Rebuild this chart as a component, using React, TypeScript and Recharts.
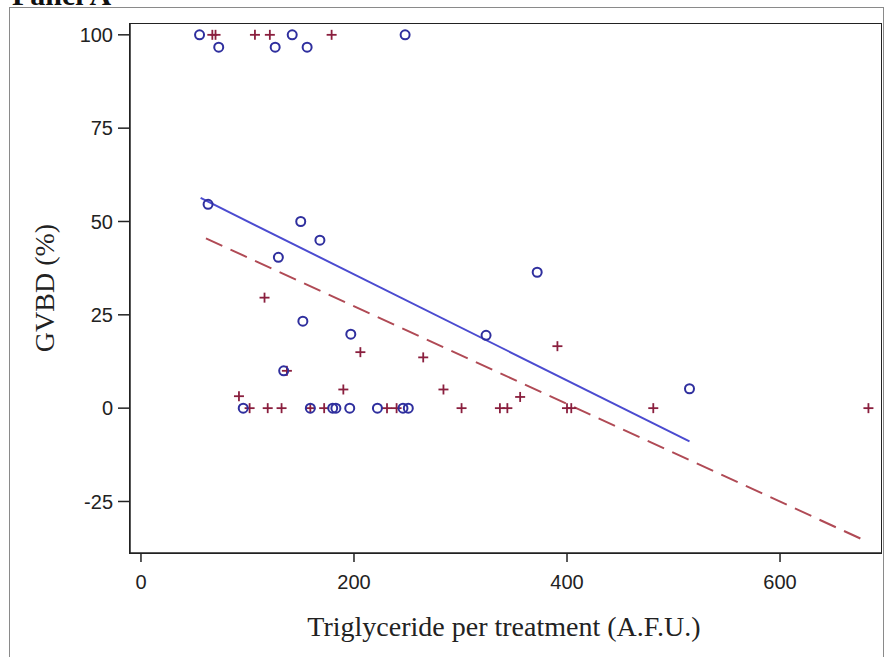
import React from "react";
import { ScatterChart, Scatter, XAxis, YAxis } from "recharts";

// Group 1 (blue circles)
const circleX = [55, 73, 126, 142, 156, 248, 63, 150, 168, 129, 152, 197, 324, 372, 515, 134, 96, 159, 180, 183, 196, 222, 246, 251];
const circleY = [100, 96.7, 96.7, 100, 96.7, 100, 54.6, 50, 45, 40.4, 23.3, 19.8, 19.5, 36.4, 5.2, 10, 0, 0, 0, 0, 0, 0, 0, 0];

// Group 2 (red plus signs)
const plusX = [67, 70, 107, 121, 179, 116, 92, 137, 190, 206, 265, 284, 356, 391, 102, 119, 132, 159, 172, 231, 240, 301, 337, 344, 400, 404, 481, 683];
const plusY = [100, 100, 100, 100, 100, 29.6, 3.2, 10, 5, 15, 13.6, 5, 3, 16.6, 0, 0, 0, 0, 0, 0, 0, 0, 0, 0, 0, 0, 0, 0];

// Fitted regression lines (end points)
const blueFitX = [56, 515];
const blueFitY = [56.3, -8.9];
const redFitX = [61, 683];
const redFitY = [45.5, -35.9];

const xTicks = [0, 200, 400, 600];
const yTicks = [-25, 0, 25, 50, 75, 100];
const xDomain = [-10.3, 694.8];
const yDomain = [-38.8, 102.9];

const toPts = (xs: number[], ys: number[]) => xs.map((x, i) => ({ x, y: ys[i] }));

const circles = toPts(circleX, circleY);
const pluses = toPts(plusX, plusY);
const blueFit = toPts(blueFitX, blueFitY);
const redFit = toPts(redFitX, redFitY);

const CIRCLE_COLOR = "#2f2f9e";
const PLUS_COLOR = "#8a1f3e";

const CircleShape = (p: any) => (
  <circle cx={p.cx} cy={p.cy} r={4.5} fill="none" stroke={CIRCLE_COLOR} strokeWidth={2} />
);
const PlusShape = (p: any) => (
  <g stroke={PLUS_COLOR} strokeWidth={1.8}>
    <line x1={p.cx - 5} y1={p.cy} x2={p.cx + 5} y2={p.cy} />
    <line x1={p.cx} y1={p.cy - 5} x2={p.cx} y2={p.cy + 5} />
  </g>
);
const NoShape = () => <g />;

const tickStyle = { fontFamily: "'Liberation Sans', Arial, sans-serif", fontSize: 20, fill: "#222" };

const PLOT = { left: 130, top: 24, right: 881, bottom: 553 };

export default function App() {
  return (
    <div style={{ position: "absolute", left: 0, top: 0, width: 885, height: 657, background: "#fff", overflow: "hidden" }}>
      <div
        style={{
          position: "absolute",
          left: 9,
          top: 7,
          width: 875,
          height: 700,
          border: "1px solid #8a8a8a",
          boxSizing: "border-box",
        }}
      />
      <div
        style={{
          position: "absolute",
          left: PLOT.left - 1,
          top: PLOT.top - 1,
          width: PLOT.right - PLOT.left + 2,
          height: PLOT.bottom - PLOT.top + 2,
          border: "1.5px solid #222",
          boxSizing: "border-box",
        }}
      />
      <div style={{ position: "absolute", left: 0, top: 0 }}>
        <ScatterChart
          width={885}
          height={657}
          margin={{ top: PLOT.top, right: 885 - PLOT.right, left: PLOT.left - 70, bottom: 657 - PLOT.bottom - 50 }}
        >
          <XAxis
            type="number"
            dataKey="x"
            domain={xDomain}
            ticks={xTicks}
            allowDataOverflow
            height={50}
            tickSize={9}
            tickMargin={13}
            tick={tickStyle}
            stroke="#222"
            strokeWidth={1.5}
          />
          <YAxis
            type="number"
            dataKey="y"
            domain={yDomain}
            ticks={yTicks}
            allowDataOverflow
            width={70}
            tickSize={12}
            tickMargin={5}
            tick={tickStyle}
            stroke="#222"
            strokeWidth={1.5}
          />
          <Scatter
            data={redFit}
            line={{ stroke: "#b04a55", strokeWidth: 2, strokeDasharray: "18 9" }}
            shape={NoShape}
            isAnimationActive={false}
            legendType="none"
          />
          <Scatter
            data={blueFit}
            line={{ stroke: "#4b4bd0", strokeWidth: 2 }}
            shape={NoShape}
            isAnimationActive={false}
            legendType="none"
          />
          <Scatter data={pluses} shape={PlusShape} isAnimationActive={false} />
          <Scatter data={circles} shape={CircleShape} isAnimationActive={false} />
        </ScatterChart>
      </div>
      <svg width={885} height={657} style={{ position: "absolute", left: 0, top: 0, pointerEvents: "none" }}>
        <text x={12} y={5} fontFamily="'Liberation Serif', 'Times New Roman', serif" fontWeight="bold" fontSize={30} fill="#111">
          Panel A
        </text>
        <text
          x={504}
          y={636}
          textAnchor="middle"
          fontFamily="'Liberation Serif', 'Times New Roman', serif"
          fontSize={28}
          fill="#222"
        >
          Triglyceride per treatment (A.F.U.)
        </text>
        <text
          x={54}
          y={288}
          textAnchor="middle"
          transform="rotate(-90 54 288)"
          fontFamily="'Liberation Serif', 'Times New Roman', serif"
          fontSize={28}
          fill="#222"
        >
          GVBD (%)
        </text>
      </svg>
    </div>
  );
}
